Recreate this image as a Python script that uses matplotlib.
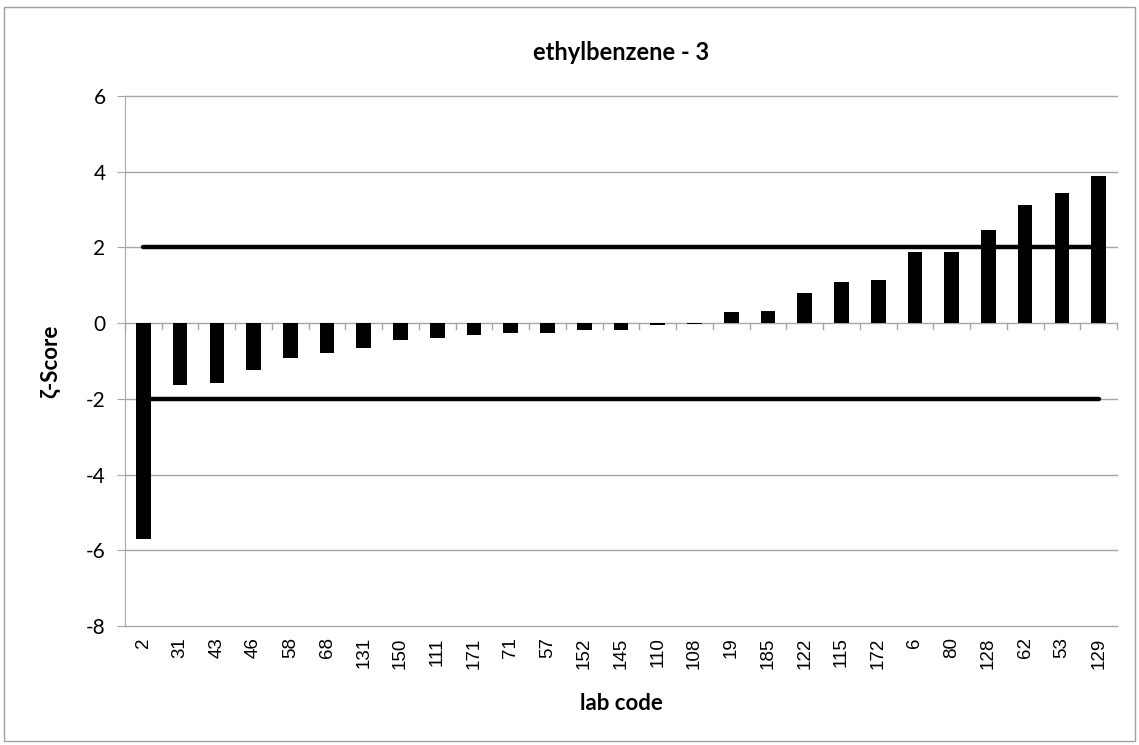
import matplotlib.pyplot as plt
import numpy as np
from matplotlib.patches import Rectangle

# lab codes in plotted order and their zeta-scores
lab_codes = ['2', '31', '43', '46', '58', '68', '131', '150', '111', '171', '71', '57', '152',
             '145', '110', '108', '19', '185', '122', '115', '172', '6', '80', '128', '62', '53', '129']
zeta = [-5.70, -1.63, -1.58, -1.24, -0.92, -0.80, -0.66, -0.44, -0.38, -0.30, -0.27, -0.25, -0.18,
        -0.18, -0.06, -0.02, 0.29, 0.33, 0.79, 1.10, 1.15, 1.88, 1.88, 2.45, 3.11, 3.45, 3.90]
limit_hi = 2
limit_lo = -2
y_ticks = [-8, -6, -4, -2, 0, 2, 4, 6]

grid_col = '#a6a6a6'

fig = plt.figure(figsize=(11.39, 7.45), dpi=100)
ax = fig.add_axes([125/1139, 1 - 626/745, (1117 - 125)/1139, (626 - 96)/745])

x = np.arange(len(lab_codes))
ax.bar(x, zeta, width=0.4, color='black', zorder=3)
ax.plot([x[0], x[-1]], [limit_hi, limit_hi], color='black', lw=3.2, solid_capstyle='round', zorder=4)
ax.plot([x[0], x[-1]], [limit_lo, limit_lo], color='black', lw=3.2, solid_capstyle='round', zorder=4)

ax.set_xlim(-0.5, len(lab_codes) - 0.5)
ax.set_ylim(-8, 6)
ax.set_yticks(y_ticks)
ax.set_yticklabels([str(v) for v in y_ticks], family='Lato', fontsize=15)
for v in y_ticks:
    ax.axhline(v, color=grid_col, lw=1, zorder=1, clip_on=False)

for s in ['top', 'right', 'bottom']:
    ax.spines[s].set_visible(False)
ax.spines['left'].set_color(grid_col)
ax.tick_params(axis='y', length=6, color=grid_col, pad=8)

# category ticks hang from the zero line, labels at the bottom
ax.set_xticks([])
for b in np.arange(len(lab_codes) + 1) - 0.5:
    ax.plot([b, b], [0, -0.16], color=grid_col, lw=1, zorder=2, clip_on=False)
for xi, lab in zip(x, lab_codes):
    ax.text(xi, -8.3, lab, rotation=90, ha='center', va='top', fontsize=13.5,
            family='Liberation Sans')

fig.text(621/1139, 1 - 52/745, 'ethylbenzene - 3', ha='center', va='center',
         family='Lato', fontweight='bold', fontsize=17)
fig.text(621/1139, 1 - 703/745, 'lab code', ha='center', va='center',
         family='Lato', fontweight='bold', fontsize=16)
fig.text(50/1139, 1 - 361/745, 'ζ-Score', ha='center', va='center', rotation=90,
         family=['Lato', 'DejaVu Sans'], fontweight='bold', fontsize=16)

fig.patches.append(Rectangle((4/1139, 4/745), 1131/1139, 734/745, transform=fig.transFigure,
                             fill=False, edgecolor='#a0a0a0', lw=1))

fig.savefig('out.png', dpi=100)
